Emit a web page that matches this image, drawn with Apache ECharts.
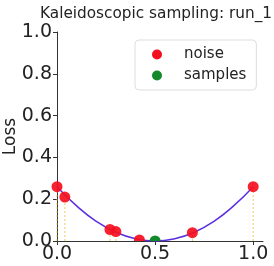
<!DOCTYPE html>
<html><head><meta charset="utf-8">
<script src="https://cdn.jsdelivr.net/npm/echarts@6/dist/echarts.min.js"></script>
<style>html,body{margin:0;padding:0;background:#fff}#c{width:274px;height:266px}</style>
</head><body><div id="c"></div>
<script>
var curveX = [0, 0.1, 0.2, 0.3, 0.4, 0.5, 0.6, 0.7, 0.8, 0.9, 1.0];
var curveY = [0.26, 0.168, 0.094, 0.042, 0.011, 0.0, 0.011, 0.042, 0.094, 0.168, 0.26];
var noiseX = [0.0, 0.04, 0.27, 0.30, 0.42, 0.69, 1.0];
var noiseY = [0.26, 0.21, 0.055, 0.045, 0.005, 0.04, 0.26];
var samplesX = [0.5];
var samplesY = [0.0];
var xTicks = [0, 0.5, 1.0];
var yTicks = [0, 0.2, 0.4, 0.6, 0.8, 1.0];

function zip(a, b) { return a.map(function (v, i) { return [v, b[i]]; }); }
function dotRenderer(color, opacity) {
  return function (params, api) {
    var p = api.coord([api.value(0), api.value(1)]);
    var yb = api.coord([0, 0])[1];
    return {type: 'circle', shape: {cx: p[0], cy: p[1], r: 5.5},
      style: {fill: color, opacity: opacity},
      clipPath: {type: 'rect', shape: {x: 0, y: 0, width: 274, height: yb}}};
  };
}
var FONT = 'DejaVu Sans';
var chart = echarts.init(document.getElementById('c'), null, {renderer: 'canvas'});
chart.setOption({
  animation: false,
  textStyle: {fontFamily: FONT},
  title: {text: 'Kaleidoscopic sampling: run_1', left: 35, top: 2,
    textStyle: {fontFamily: FONT, fontSize: 15.3, fontWeight: 'normal', color: '#222'}},
  grid: {left: 57, top: 32, right: 11, bottom: 25, containLabel: false, outerBoundsMode: 'none'},
  legend: {data: ['noise', 'samples'], orient: 'vertical', left: 135, top: 40,
    padding: [7, 10, 7, 17], itemGap: 6, borderColor: '#ddd', borderWidth: 1, borderRadius: 4,
    icon: 'circle', itemWidth: 10, itemHeight: 10,
    textStyle: {fontFamily: FONT, fontSize: 15, color: '#222', padding: [0, 0, 0, 17]}},
  xAxis: {type: 'value', min: 0, max: 1.05, interval: 0.5,
    axisLine: {lineStyle: {color: '#333'}}, axisTick: {length: 4, lineStyle: {color: '#333'}},
    splitLine: {show: false},
    axisLabel: {fontSize: 19, color: '#222', margin: 4, showMaxLabel: false,
      formatter: function (v) { return xTicks.indexOf(+v.toFixed(2)) >= 0 ? v.toFixed(1) : ''; }}},
  yAxis: {type: 'value', min: 0, max: 1, interval: 0.2, name: 'Loss', nameLocation: 'middle',
    nameGap: 38, nameMoveOverlap: false, nameTextStyle: {fontSize: 17, color: '#222', fontFamily: FONT},
    axisLine: {show: true, lineStyle: {color: '#333'}}, axisTick: {show: true, length: 4, lineStyle: {color: '#333'}},
    splitLine: {show: false},
    axisLabel: {fontSize: 19, color: '#222', margin: 5,
      formatter: function (v) { return yTicks.indexOf(+v.toFixed(2)) >= 0 ? v.toFixed(1) : ''; }}},
  series: [
    {type: 'custom', name: 'stems', silent: true, data: zip(noiseX, noiseY), z: 1,
      renderItem: function (params, api) {
        var p0 = api.coord([api.value(0), 0]);
        var p1 = api.coord([api.value(0), api.value(1)]);
        return {type: 'line', shape: {x1: p0[0], y1: p0[1], x2: p1[0], y2: p1[1]},
          style: {stroke: '#f5b642', lineWidth: 1, lineDash: [2, 2], opacity: 0.8}};
      }},
    {type: 'line', name: 'curve', data: zip(curveX, curveY), smooth: true, showSymbol: false,
      lineStyle: {color: '#5b2fe0', width: 1.5}, z: 2},
    {type: 'custom', name: 'noise', data: zip(noiseX, noiseY), clip: false, z: 3,
      itemStyle: {color: '#f50f1e'}, renderItem: dotRenderer('#f50f1e', 0.92)},
    {type: 'custom', name: 'samples', data: zip(samplesX, samplesY), clip: false, z: 4,
      itemStyle: {color: '#128a2c'}, renderItem: dotRenderer('#128a2c', 1)}
  ]
});
</script></body></html>
